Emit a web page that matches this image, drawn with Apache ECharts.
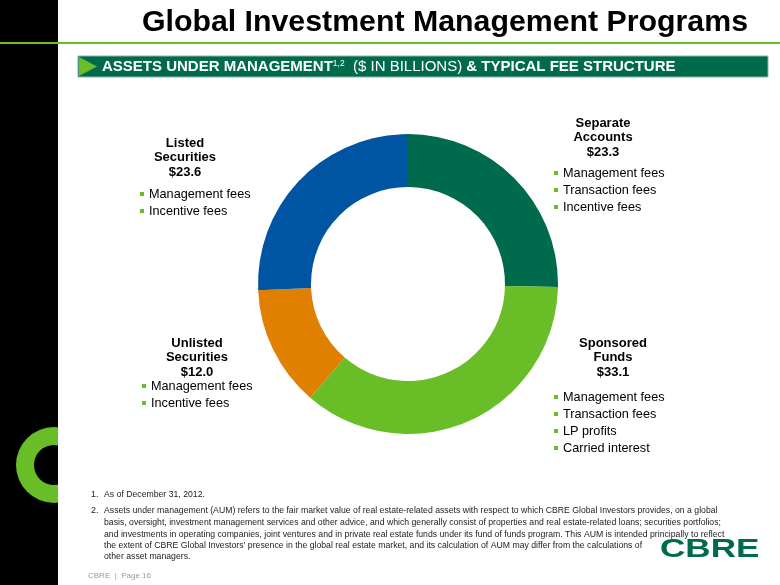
<!DOCTYPE html>
<html><head><meta charset="utf-8">
<script src="https://cdn.jsdelivr.net/npm/echarts@6/dist/echarts.min.js"></script>
<style>html,body{margin:0;padding:0;background:#fff}#c{width:780px;height:585px}</style>
</head><body><div id="c"></div>
<script>
// ---- data ----
var categories = ['Separate Accounts', 'Sponsored Funds', 'Unlisted Securities', 'Listed Securities'];
var values = [23.3, 33.1, 12.0, 23.6];
var titleLines = [['Separate', 'Accounts'], ['Sponsored', 'Funds'], ['Unlisted', 'Securities'], ['Listed', 'Securities']];
var fees = [
  ['Management fees', 'Transaction fees', 'Incentive fees'],
  ['Management fees', 'Transaction fees', 'LP profits', 'Carried interest'],
  ['Management fees', 'Incentive fees'],
  ['Management fees', 'Incentive fees']
];
var footnotes = [
  ['1.', ['As of December 31, 2012.']],
  ['2.', ['Assets under management (AUM) refers to the fair market value of real estate-related assets with respect to which CBRE Global Investors provides, on a global',
          'basis, oversight, investment management services and other advice, and which generally consist of properties and real estate-related loans; securities portfolios;',
          'and investments in operating companies, joint ventures and in private real estate funds under its fund of funds program. This AUM is intended principally to reflect',
          'the extent of CBRE Global Investors\u2019 presence in the global real estate market, and its calculation of AUM may differ from the calculations of',
          'other asset managers.']]
];

// ---- layout / style ----
var colors = ['#006A4D', '#69BE28', '#E07F00', '#0055A2'];
var FONT = 'Liberation Sans, Arial, sans-serif';
var labelLayout = [
  {cx: 603, ty: 123, bx: 556, by: 173},
  {cx: 613, ty: 343, bx: 556, by: 397},
  {cx: 197, ty: 343, bx: 144, by: 386},
  {cx: 185, ty: 143, bx: 142, by: 194}
];

var chart = echarts.init(document.getElementById('c'), null, {renderer: 'canvas'});
var g = [];
// left band
g.push({type: 'rect', shape: {x: 0, y: 0, width: 58, height: 585}, style: {fill: '#000'}, z: 1});
// logo C
g.push({type: 'ring', shape: {cx: 54, cy: 465, r: 38, r0: 20}, style: {fill: '#69BE28'}, z: 2});
g.push({type: 'rect', shape: {x: 58, y: 420, width: 40, height: 90}, style: {fill: '#fff'}, z: 3});
// green rule
g.push({type: 'rect', shape: {x: 0, y: 42, width: 780, height: 2}, style: {fill: '#69BE28'}, z: 4});
// title
g.push({type: 'text', x: 748, y: 23, z: 5, style: {text: 'Global Investment Management Programs', fill: '#000',
  font: 'bold 30.3px ' + FONT, textAlign: 'right', textVerticalAlign: 'middle'}});
// header bar
g.push({type: 'rect', shape: {x: 78, y: 56, width: 690, height: 21}, style: {fill: '#006A4D', stroke: '#8DB89C', lineWidth: 1}, z: 4});
g.push({type: 'polygon', shape: {points: [[79, 57], [97, 66.5], [79, 76]]}, style: {fill: '#69BE28'}, z: 5});
g.push({type: 'text', x: 102, y: 67, z: 6, style: {
  rich: {
    b: {font: 'bold 15px ' + FONT, fill: '#fff'},
    s: {font: '8.5px ' + FONT, fill: '#fff', verticalAlign: 'top', padding: [0, 0, 6, 0]},
    n: {font: '15px ' + FONT, fill: '#fff'}
  },
  text: '{b|ASSETS UNDER MANAGEMENT}{s|1,2}{n|  ($ IN BILLIONS) }{b|& TYPICAL FEE STRUCTURE}',
  textVerticalAlign: 'middle'
}});

// labels
categories.forEach(function (c, i) {
  var L = labelLayout[i];
  var lines = titleLines[i].concat(['$' + values[i].toFixed(1)]);
  lines.forEach(function (t, k) {
    g.push({type: 'text', x: L.cx, y: L.ty + k * 14.7, z: 6, style: {text: t, fill: '#000',
      font: 'bold 13px ' + FONT, textAlign: 'center', textVerticalAlign: 'middle'}});
  });
  fees[i].forEach(function (t, k) {
    var y = L.by + k * 17;
    g.push({type: 'rect', shape: {x: L.bx - 2, y: y - 2, width: 4, height: 4}, style: {fill: '#69BE28'}, z: 6});
    g.push({type: 'text', x: L.bx + 7, y: y, z: 6, style: {text: t, fill: '#000',
      font: '12.7px ' + FONT, textAlign: 'left', textVerticalAlign: 'middle'}});
  });
});

// footnotes
var fy = [[495], [511, 523, 535, 546, 557]];
footnotes.forEach(function (f, i) {
  g.push({type: 'text', x: 91, y: fy[i][0], z: 6, style: {text: f[0], fill: '#222', font: '9px ' + FONT, textVerticalAlign: 'middle'}});
  f[1].forEach(function (t, k) {
    g.push({type: 'text', x: 104, y: fy[i][k], scaleX: 0.965, z: 6, style: {text: t, fill: '#222', font: '9px ' + FONT, textVerticalAlign: 'middle'}});
  });
});
g.push({type: 'text', x: 88, y: 576, z: 6, style: {text: 'CBRE  |  Page 16', fill: '#9a9a9a', font: '8px ' + FONT, textVerticalAlign: 'middle'}});
// CBRE logo
g.push({type: 'text', x: 660, y: 550, scaleX: 1.35, z: 6, style: {text: 'CBRE', fill: '#006A4D',
  font: 'bold 26px ' + FONT, textAlign: 'left', textVerticalAlign: 'middle'}});

chart.setOption({
  animation: false,
  backgroundColor: '#fff',
  graphic: {elements: g},
  series: [{
    type: 'pie',
    center: [408, 284],
    radius: [97, 150],
    startAngle: 90,
    clockwise: true,
    silent: true,
    label: {show: false},
    labelLine: {show: false},
    itemStyle: {borderWidth: 0},
    data: categories.map(function (c, i) {
      return {name: c, value: values[i], itemStyle: {color: colors[i]}};
    })
  }]
});
</script>
</body></html>
